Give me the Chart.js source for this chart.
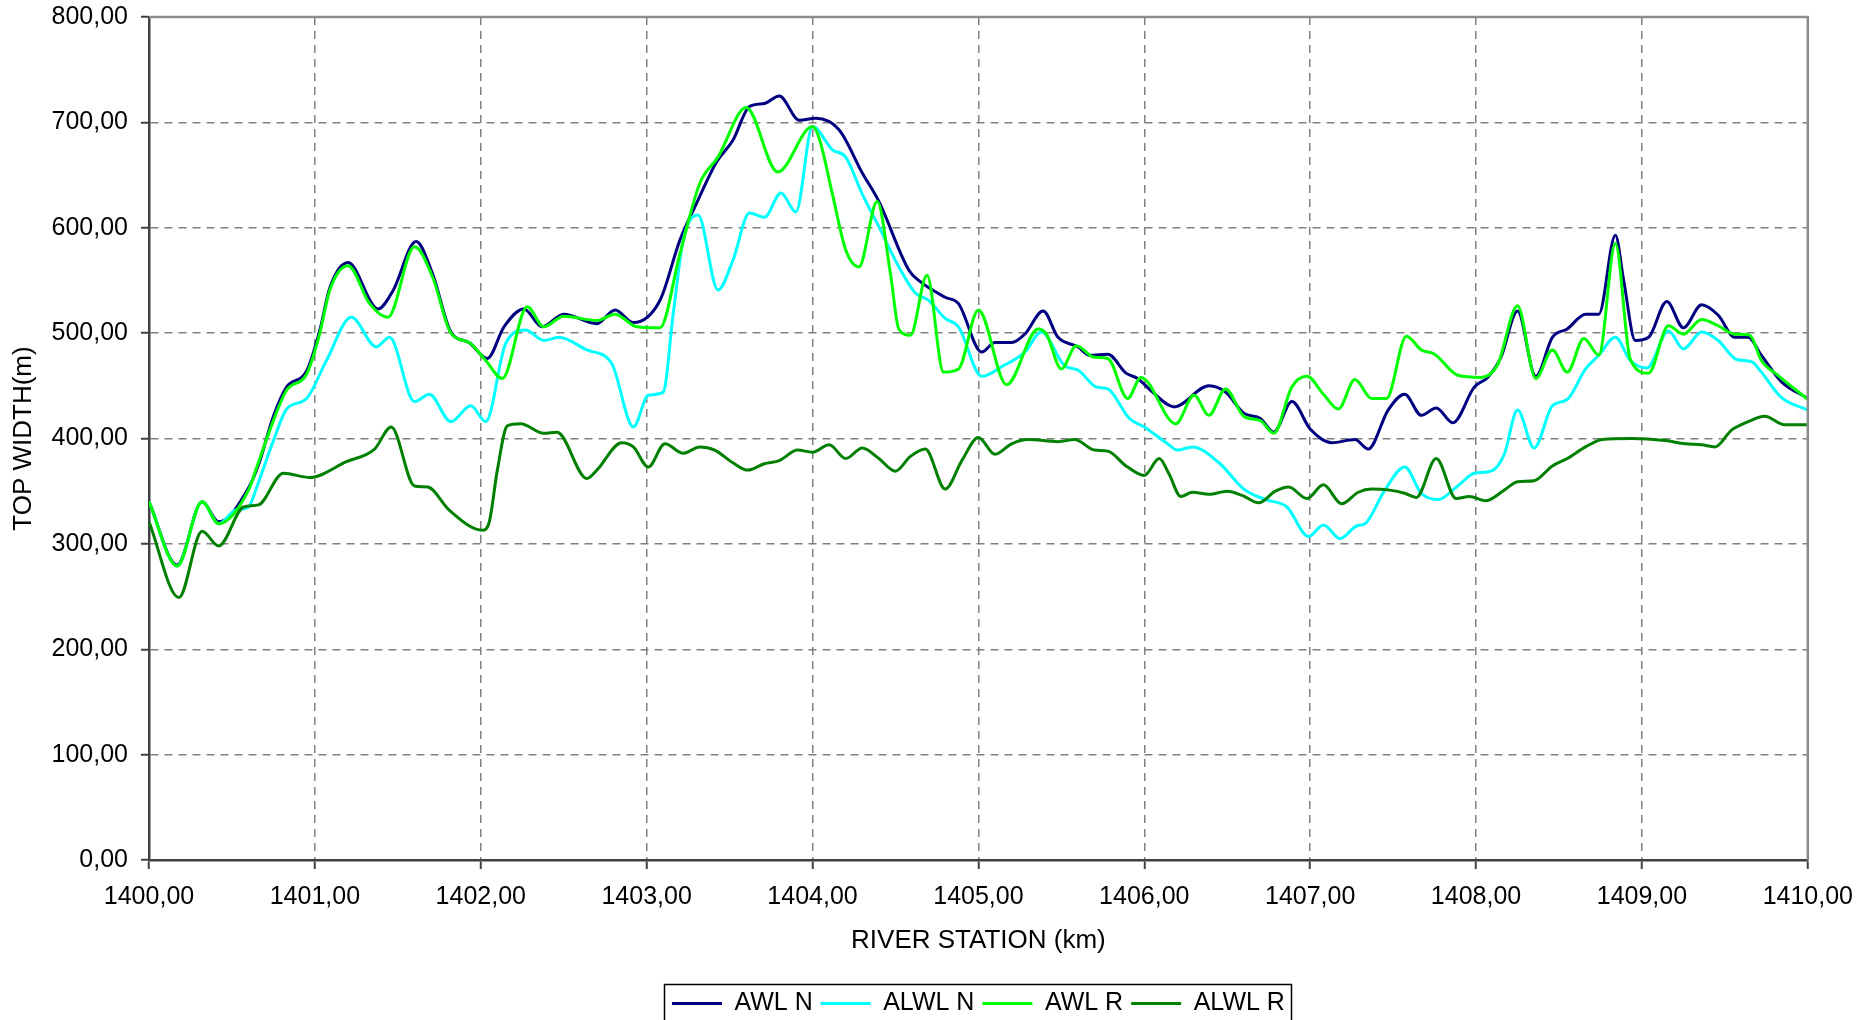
<!DOCTYPE html>
<html>
<head>
<meta charset="utf-8">
<title>Top width along river station</title>
<script src="https://cdn.jsdelivr.net/npm/chart.js@4.4.1/dist/chart.umd.min.js"></script>
<style>
    html, body { margin: 0; padding: 0; background: #fff; }
    #chart { display: block; }
</style>
</head>
<body>
<canvas id="chart" width="1866" height="1020"></canvas>
<script>
// River stations (km) and top widths (m) for each profile
const stationsAwlN = [
    1400.00, 1400.17, 1400.32, 1400.42, 1400.60, 1400.66, 1400.75, 1400.83, 1400.95, 1401.03,
    1401.09, 1401.20, 1401.38, 1401.47, 1401.61, 1401.71, 1401.82, 1401.93, 1402.04, 1402.14,
    1402.26, 1402.37, 1402.50, 1402.70, 1402.81, 1402.92, 1403.08, 1403.20, 1403.30, 1403.42,
    1403.52, 1403.62, 1403.71, 1403.80, 1403.92, 1404.02, 1404.16, 1404.30, 1404.40, 1404.58,
    1404.64, 1404.80, 1404.88, 1405.02, 1405.10, 1405.20, 1405.28, 1405.39, 1405.48, 1405.60,
    1405.67, 1405.78, 1405.89, 1405.96, 1406.05, 1406.18, 1406.39, 1406.49, 1406.60, 1406.70,
    1406.78, 1406.89, 1407.00, 1407.13, 1407.27, 1407.35, 1407.47, 1407.57, 1407.67, 1407.76,
    1407.86, 1407.99, 1408.07, 1408.15, 1408.25, 1408.36, 1408.46, 1408.55, 1408.66, 1408.74,
    1408.84, 1408.89, 1408.96, 1409.04, 1409.15, 1409.25, 1409.36, 1409.46, 1409.56, 1409.64,
    1409.72, 1409.84, 1410.00
];
const widthAwlN = [
    340, 280, 340, 321, 353, 375, 421, 449, 464, 503,
    543, 567, 523, 540, 587, 556, 501, 491, 476, 506,
    523, 506, 518, 509, 522, 510, 531, 588, 623, 662,
    683, 715, 718, 725, 702, 704, 693, 652, 625, 560,
    550, 534, 528, 482, 491, 491, 499, 521, 496, 487,
    479, 480, 462, 457, 444, 430, 450, 444, 424, 419,
    406, 435, 409, 396, 399, 390, 427, 442, 422, 429,
    415, 449, 458, 477, 521, 459, 496, 504, 518, 518,
    593, 550, 493, 496, 530, 505, 527, 517, 496, 496,
    479, 454, 438
];

const stationsAlwlN = [
    1400.00, 1400.17, 1400.32, 1400.42, 1400.52, 1400.60, 1400.65, 1400.75, 1400.83, 1400.95,
    1401.07, 1401.22, 1401.37, 1401.45, 1401.60, 1401.69, 1401.82, 1401.94, 1402.03, 1402.15,
    1402.27, 1402.38, 1402.47, 1402.64, 1402.79, 1402.92, 1403.01, 1403.10, 1403.16, 1403.22,
    1403.31, 1403.43, 1403.52, 1403.62, 1403.71, 1403.81, 1403.90, 1404.00, 1404.12, 1404.20,
    1404.30, 1404.40, 1404.52, 1404.62, 1404.70, 1404.80, 1404.88, 1405.02, 1405.15, 1405.28,
    1405.38, 1405.52, 1405.60, 1405.71, 1405.78, 1405.91, 1406.00, 1406.14, 1406.20, 1406.29,
    1406.45, 1406.60, 1406.73, 1406.86, 1406.99, 1407.08, 1407.18, 1407.28, 1407.33, 1407.45,
    1407.57, 1407.67, 1407.77, 1407.89, 1407.99, 1408.09, 1408.17, 1408.25, 1408.35, 1408.46,
    1408.55, 1408.66, 1408.74, 1408.84, 1408.93, 1409.03, 1409.16, 1409.25, 1409.36, 1409.46,
    1409.57, 1409.66, 1409.72, 1409.84, 1410.00
];
const widthAlwlN = [
    340, 279, 340, 319, 332, 335, 354, 398, 428, 438,
    474, 515, 487, 496, 435, 442, 416, 431, 416, 490,
    503, 493, 496, 484, 471, 411, 441, 444, 518, 588,
    612, 541, 569, 614, 610, 633, 615, 696, 674, 667,
    632, 601, 563, 538, 531, 514, 506, 459, 469, 482,
    501, 469, 465, 449, 447, 419, 411, 395, 389, 392,
    377, 352, 342, 335, 307, 318, 305, 317, 319, 351,
    373, 348, 342, 355, 367, 369, 385, 427, 391, 431,
    437, 466, 479, 496, 474, 467, 502, 485, 501, 493,
    475, 473, 463, 439, 427
];

const stationsAwlR = [
    1400.00, 1400.17, 1400.32, 1400.42, 1400.60, 1400.65, 1400.75, 1400.83, 1400.95, 1401.03,
    1401.09, 1401.20, 1401.33, 1401.44, 1401.60, 1401.71, 1401.82, 1401.93, 1402.03, 1402.13,
    1402.28, 1402.38, 1402.50, 1402.70, 1402.81, 1402.94, 1403.08, 1403.20, 1403.32, 1403.43,
    1403.60, 1403.79, 1404.00, 1404.04, 1404.12, 1404.20, 1404.28, 1404.39, 1404.47, 1404.52,
    1404.59, 1404.69, 1404.79, 1404.88, 1405.00, 1405.17, 1405.36, 1405.41, 1405.50, 1405.59,
    1405.70, 1405.78, 1405.90, 1405.98, 1406.19, 1406.30, 1406.39, 1406.49, 1406.60, 1406.70,
    1406.78, 1406.89, 1406.98, 1407.08, 1407.17, 1407.27, 1407.37, 1407.46, 1407.58, 1407.67,
    1407.75, 1407.89, 1408.03, 1408.13, 1408.25, 1408.36, 1408.46, 1408.55, 1408.65, 1408.74,
    1408.84, 1408.93, 1409.04, 1409.16, 1409.25, 1409.36, 1409.46, 1409.56, 1409.65, 1409.72,
    1409.82, 1410.00
];
const widthAwlR = [
    340, 279, 340, 319, 351, 373, 417, 446, 461, 500,
    541, 564, 528, 515, 582, 553, 500, 491, 474, 457,
    525, 506, 516, 512, 518, 506, 505, 575, 642, 667,
    714, 653, 696, 685, 632, 579, 563, 625, 556, 504,
    498, 555, 463, 466, 522, 451, 504, 499, 466, 488,
    477, 476, 438, 458, 414, 441, 422, 447, 421, 417,
    405, 449, 459, 442, 428, 456, 438, 438, 497, 484,
    480, 460, 458, 470, 526, 457, 484, 463, 495, 479,
    585, 475, 462, 507, 499, 513, 507, 499, 498, 474,
    460, 437
];

const stationsAlwlR = [
    1400.00, 1400.18, 1400.32, 1400.42, 1400.57, 1400.66, 1400.81, 1400.97, 1401.19, 1401.36,
    1401.46, 1401.60, 1401.68, 1401.81, 1402.01, 1402.05, 1402.10, 1402.16, 1402.24, 1402.38,
    1402.46, 1402.64, 1402.70, 1402.85, 1402.92, 1403.01, 1403.11, 1403.22, 1403.32, 1403.41,
    1403.52, 1403.61, 1403.71, 1403.80, 1403.91, 1404.00, 1404.10, 1404.20, 1404.30, 1404.40,
    1404.50, 1404.59, 1404.68, 1404.80, 1404.90, 1405.00, 1405.10, 1405.20, 1405.30, 1405.48,
    1405.58, 1405.70, 1405.78, 1405.89, 1406.00, 1406.09, 1406.15, 1406.22, 1406.29, 1406.39,
    1406.50, 1406.59, 1406.69, 1406.79, 1406.87, 1406.98, 1407.08, 1407.19, 1407.29, 1407.37,
    1407.48, 1407.57, 1407.64, 1407.76, 1407.88, 1407.96, 1408.06, 1408.17, 1408.25, 1408.35,
    1408.46, 1408.55, 1408.66, 1408.76, 1408.94, 1409.14, 1409.26, 1409.36, 1409.44, 1409.54,
    1409.64, 1409.74, 1409.86, 1410.00
];
const widthAlwlR = [
    321, 249, 312, 298, 335, 337, 367, 363, 378, 390,
    411, 355, 354, 332, 313, 320, 370, 412, 414, 405,
    406, 362, 370, 396, 392, 373, 395, 386, 392, 389,
    377, 370, 376, 379, 389, 387, 394, 381, 391, 381,
    369, 383, 390, 352, 379, 401, 385, 395, 399, 397,
    399, 389, 388, 374, 365, 381, 366, 345, 349, 347,
    350, 346, 339, 350, 354, 343, 356, 338, 349, 352,
    351, 348, 344, 381, 343, 345, 341, 351, 359, 360,
    374, 381, 392, 399, 400, 398, 395, 394, 392, 408,
    416, 421, 413, 413
];

const seriesNames = ['AWL N', 'ALWL N', 'AWL R', 'ALWL R'];
const seriesColors = ['#000080', '#00FFFF', '#00FF00', '#008000'];

const xTicks = [1400, 1401, 1402, 1403, 1404, 1405, 1406, 1407, 1408, 1409, 1410];
const yTicks = [0, 100, 200, 300, 400, 500, 600, 700, 800];

const FONT = '"Liberation Sans", Arial, sans-serif';
const GRID = '#808080';
const AXIS = '#404040';

function toPoints(stations, widths) {
    return stations.map((x, i) => ({ x, y: widths[i] }));
}

function fmt(v) {
    return Number(v).toFixed(2).replace('.', ',');
}

// solid grey frame on the top and right of the plot, box around the legend
const framePlugin = {
    id: 'frame',
    afterDraw(chart) {
        const { ctx, chartArea: a, legend } = chart;
        ctx.save();
        ctx.strokeStyle = '#8c8c8c';
        ctx.lineWidth = 2.5;
        ctx.beginPath();
        ctx.moveTo(a.left, a.top);
        ctx.lineTo(a.right, a.top);
        ctx.lineTo(a.right, a.bottom);
        ctx.stroke();

        if (legend && legend.legendHitBoxes.length) {
            const boxes = legend.legendHitBoxes;
            const left = Math.min(...boxes.map(b => b.left)) - 8;
            const right = Math.max(...boxes.map(b => b.left + b.width)) + 6;
            ctx.strokeStyle = '#000';
            ctx.lineWidth = 1.5;
            ctx.strokeRect(Math.round(left) + 0.5, Math.round(legend.top) + 1.5, Math.round(right - left), 60);
        }
        ctx.restore();
    }
};

const series = [
    [stationsAwlN, widthAwlN],
    [stationsAlwlN, widthAlwlN],
    [stationsAwlR, widthAwlR],
    [stationsAlwlR, widthAlwlR]
];

const datasets = series.map(([st, w], i) => ({
    label: seriesNames[i],
    data: toPoints(st, w),
    borderColor: seriesColors[i],
    backgroundColor: seriesColors[i],
    borderWidth: 3,
    pointRadius: 0,
    cubicInterpolationMode: 'monotone',
    // later profiles sit on top of earlier ones
    order: series.length - i
}));

new Chart(document.getElementById('chart'), {
    type: 'line',
    data: { datasets },
    plugins: [framePlugin],
    options: {
        responsive: false,
        animation: false,
        devicePixelRatio: 1,
        layout: { padding: { top: 17, right: 56, left: 0, bottom: -6 } },
        plugins: {
            tooltip: { enabled: false },
            legend: {
                position: 'bottom',
                fullSize: false,
                labels: {
                    color: '#000',
                    font: { family: FONT, size: 25 },
                    boxWidth: 50,
                    boxHeight: 0,
                    padding: 8,
                    sort: (a, b) => a.datasetIndex - b.datasetIndex
                }
            }
        },
        scales: {
            x: {
                type: 'linear',
                min: 1400,
                max: 1410,
                afterFit: s => { s.height = 123; },
                afterBuildTicks: s => { s.ticks = xTicks.map(v => ({ value: v })); },
                ticks: {
                    color: '#000',
                    font: { family: FONT, size: 25 },
                    padding: 13,
                    maxRotation: 0,
                    callback: v => fmt(v)
                },
                grid: {
                    color: c => (c.tick && (c.tick.value === 1400 || c.tick.value === 1410)) ? 'rgba(0,0,0,0)' : GRID,
                    lineWidth: 1.5,
                    tickLength: 9,
                    tickColor: AXIS,
                    tickWidth: 2
                },
                border: { color: AXIS, width: 2.5, dash: [8, 6] },
                title: {
                    display: true,
                    text: 'RIVER STATION (km)',
                    color: '#000',
                    font: { family: FONT, size: 26 },
                    padding: { top: 0, bottom: 27 }
                }
            },
            y: {
                min: 0,
                max: 800,
                afterFit: s => {
                    s.width = 149;
                    // let the 800 label overhang the top instead of pushing the plot down
                    s.paddingTop = 0;
                    s.paddingBottom = 0;
                },
                afterBuildTicks: s => { s.ticks = yTicks.map(v => ({ value: v })); },
                ticks: {
                    color: '#000',
                    font: { family: FONT, size: 25 },
                    padding: 13,
                    callback: v => fmt(v)
                },
                grid: {
                    color: c => (c.tick && (c.tick.value === 0 || c.tick.value === 800)) ? 'rgba(0,0,0,0)' : GRID,
                    lineWidth: 1.5,
                    tickLength: 8,
                    tickColor: AXIS,
                    tickWidth: 2
                },
                border: { color: AXIS, width: 2.5, dash: [8, 6] },
                title: {
                    display: true,
                    text: 'TOP WIDTH(m)',
                    color: '#000',
                    font: { family: FONT, size: 26 },
                    padding: { top: 8, bottom: 0 }
                }
            }
        }
    }
});
</script>
</body>
</html>
